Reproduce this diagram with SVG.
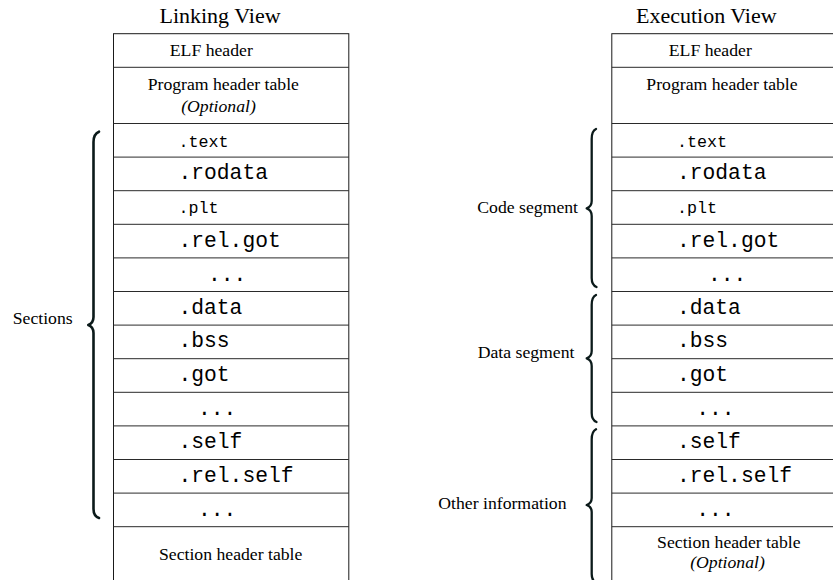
<svg xmlns="http://www.w3.org/2000/svg" width="833" height="580" viewBox="0 0 833 580">
<style>
.bg{fill:#ffffff}
.tbl{fill:none;stroke:#1a1a1a;stroke-width:1}
.sep{stroke:#2a2a2a;stroke-width:1}
.title{font-family:"Liberation Serif","Times New Roman",serif;font-size:22px;fill:#000}
.serif{font-family:"Liberation Serif","Times New Roman",serif;font-size:17.7px;fill:#000}
.ital{font-style:italic}
.mono{font-family:"Liberation Mono","Courier New",monospace;font-size:21.3px;fill:#000}
.monos{font-family:"Liberation Mono","Courier New",monospace;font-size:16.7px;fill:#000}
.brace{fill:none;stroke:#0b1a1a;stroke-width:2.3;stroke-linecap:round;stroke-linejoin:round}
</style>
<rect class="bg" x="0" y="0" width="833" height="580"/>

<g id="linking-view">
  <text class="title" x="220" y="23.3" text-anchor="middle">Linking View</text>
  <rect class="tbl" x="113.5" y="33.7" width="235.3" height="560"/>
  <g class="sep">
    <line x1="113.5" y1="67.3" x2="348.8" y2="67.3"/>
    <line x1="113.5" y1="123.5" x2="348.8" y2="123.5"/>
    <line x1="113.5" y1="157.1" x2="348.8" y2="157.1"/>
    <line x1="113.5" y1="190.7" x2="348.8" y2="190.7"/>
    <line x1="113.5" y1="224.3" x2="348.8" y2="224.3"/>
    <line x1="113.5" y1="257.9" x2="348.8" y2="257.9"/>
    <line x1="113.5" y1="291.5" x2="348.8" y2="291.5"/>
    <line x1="113.5" y1="325.1" x2="348.8" y2="325.1"/>
    <line x1="113.5" y1="358.7" x2="348.8" y2="358.7"/>
    <line x1="113.5" y1="392.3" x2="348.8" y2="392.3"/>
    <line x1="113.5" y1="425.9" x2="348.8" y2="425.9"/>
    <line x1="113.5" y1="459.5" x2="348.8" y2="459.5"/>
    <line x1="113.5" y1="493.1" x2="348.8" y2="493.1"/>
    <line x1="113.5" y1="526.7" x2="348.8" y2="526.7"/>
  </g>
  <g id="l-elf"><text class="serif" x="211.3" y="56" text-anchor="middle">ELF header</text></g>
  <g id="l-pht"><text class="serif" x="223.3" y="90" text-anchor="middle">Program header table</text>
    <text class="serif ital" x="218.5" y="111.7" text-anchor="middle">(Optional)</text></g>
  <g id="l-text"><text class="monos" x="178.5" y="146.7">.text</text></g>
  <g id="l-rodata"><text class="mono" x="178.5" y="179.3">.rodata</text></g>
  <g id="l-plt"><text class="monos" x="178.5" y="213.3">.plt</text></g>
  <g id="l-relgot"><text class="mono" x="178.5" y="247.3">.rel.got</text></g>
  <g id="l-dots1"><text class="mono" x="208" y="280.7">...</text></g>
  <g id="l-data"><text class="mono" x="178.5" y="314">.data</text></g>
  <g id="l-bss"><text class="mono" x="178.5" y="347.3">.bss</text></g>
  <g id="l-got"><text class="mono" x="178.5" y="381">.got</text></g>
  <g id="l-dots2"><text class="mono" x="198" y="415">...</text></g>
  <g id="l-self"><text class="mono" x="178.5" y="448.3">.self</text></g>
  <g id="l-relself"><text class="mono" x="178.5" y="481.7">.rel.self</text></g>
  <g id="l-dots3"><text class="mono" x="198" y="515.7">...</text></g>
  <g id="l-sht"><text class="serif" x="230.7" y="560" text-anchor="middle">Section header table</text></g>
</g>

<g id="execution-view">
  <text class="title" x="706.3" y="23.3" text-anchor="middle">Execution View</text>
  <rect class="tbl" x="611.8" y="33.7" width="235.3" height="560"/>
  <g class="sep">
    <line x1="611.8" y1="67.3" x2="847" y2="67.3"/>
    <line x1="611.8" y1="123.5" x2="847" y2="123.5"/>
    <line x1="611.8" y1="157.1" x2="847" y2="157.1"/>
    <line x1="611.8" y1="190.7" x2="847" y2="190.7"/>
    <line x1="611.8" y1="224.3" x2="847" y2="224.3"/>
    <line x1="611.8" y1="257.9" x2="847" y2="257.9"/>
    <line x1="611.8" y1="291.5" x2="847" y2="291.5"/>
    <line x1="611.8" y1="325.1" x2="847" y2="325.1"/>
    <line x1="611.8" y1="358.7" x2="847" y2="358.7"/>
    <line x1="611.8" y1="392.3" x2="847" y2="392.3"/>
    <line x1="611.8" y1="425.9" x2="847" y2="425.9"/>
    <line x1="611.8" y1="459.5" x2="847" y2="459.5"/>
    <line x1="611.8" y1="493.1" x2="847" y2="493.1"/>
    <line x1="611.8" y1="526.7" x2="847" y2="526.7"/>
  </g>
  <g id="r-elf"><text class="serif" x="710.3" y="56" text-anchor="middle">ELF header</text></g>
  <g id="r-pht"><text class="serif" x="722" y="90" text-anchor="middle">Program header table</text></g>
  <g id="r-text"><text class="monos" x="677" y="146.7">.text</text></g>
  <g id="r-rodata"><text class="mono" x="677" y="179.3">.rodata</text></g>
  <g id="r-plt"><text class="monos" x="677" y="213.3">.plt</text></g>
  <g id="r-relgot"><text class="mono" x="677" y="247.3">.rel.got</text></g>
  <g id="r-dots1"><text class="mono" x="708" y="280.7">...</text></g>
  <g id="r-data"><text class="mono" x="677" y="314">.data</text></g>
  <g id="r-bss"><text class="mono" x="677" y="347.3">.bss</text></g>
  <g id="r-got"><text class="mono" x="677" y="381">.got</text></g>
  <g id="r-dots2"><text class="mono" x="696.3" y="415">...</text></g>
  <g id="r-self"><text class="mono" x="677" y="448.3">.self</text></g>
  <g id="r-relself"><text class="mono" x="677" y="481.7">.rel.self</text></g>
  <g id="r-dots3"><text class="mono" x="696.3" y="515.7">...</text></g>
  <g id="r-sht"><text class="serif" x="728.8" y="548.3" text-anchor="middle">Section header table</text>
    <text class="serif ital" x="727.5" y="568.3" text-anchor="middle">(Optional)</text></g>
</g>

<g id="braces">
  <g id="sections">
    <path class="brace" style="stroke-width:2.6" d="M99,131.7 Q93.5,134 93.5,142 L93.5,317 Q93.5,323 88.3,325 Q93.5,327 93.5,333 L93.5,509 Q93.5,516 99,518"/>
    <text class="serif" x="12.7" y="324">Sections</text>
  </g>
  <g id="code-segment">
    <path class="brace" d="M596,129 Q591.7,131 591.7,139 L591.7,201 Q591.7,206.5 586.7,208.3 Q591.7,210 591.7,216 L591.7,278 Q591.7,285 596.5,287"/>
    <text class="serif" x="477.3" y="212.7">Code segment</text>
  </g>
  <g id="data-segment">
    <path class="brace" d="M596,295 Q591.7,297 591.7,305 L591.7,351 Q591.7,356.5 586.7,358.3 Q591.7,360 591.7,366 L591.7,413 Q591.7,420 596.5,422"/>
    <text class="serif" x="477.7" y="358.3">Data segment</text>
  </g>
  <g id="other-information">
    <path class="brace" d="M596,429.3 Q591.7,431.5 591.7,439.5 L591.7,498 Q591.7,503.2 586.7,505 Q591.7,506.8 591.7,512 L591.7,574 Q591.7,581 596.5,583"/>
    <text class="serif" x="438.3" y="509.3">Other information</text>
  </g>
</g>
</svg>
